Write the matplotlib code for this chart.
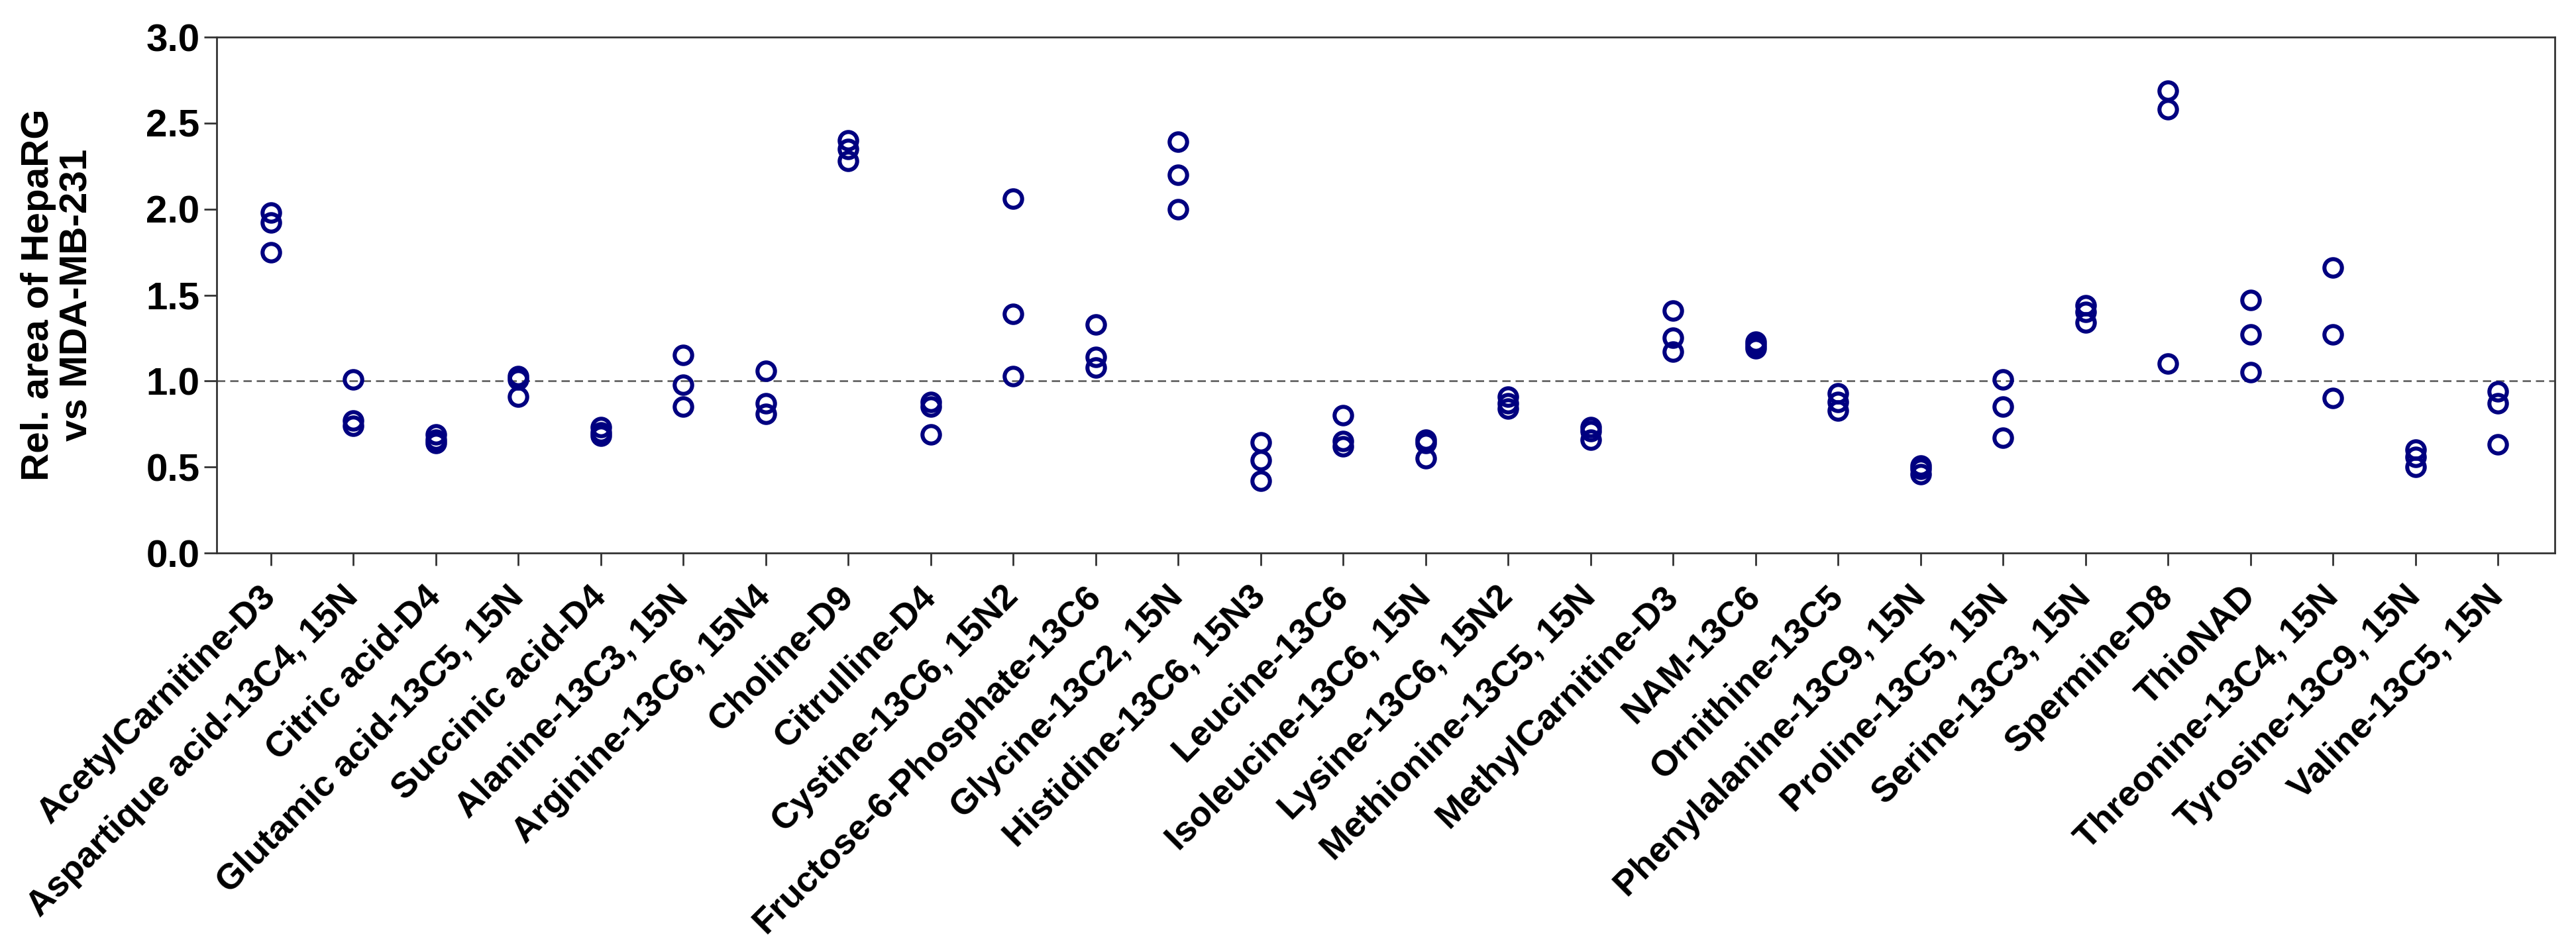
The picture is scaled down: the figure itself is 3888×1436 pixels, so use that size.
import numpy as np
import matplotlib
matplotlib.use("Agg")
import matplotlib.pyplot as plt

plt.rcParams["font.family"] = ["Liberation Sans", "DejaVu Sans"]

labels = [
    "AcetylCarnitine-D3", "Aspartique acid-13C4, 15N", "Citric acid-D4",
    "Glutamic acid-13C5, 15N", "Succinic acid-D4", "Alanine-13C3, 15N",
    "Arginine-13C6, 15N4", "Choline-D9", "Citrulline-D4", "Cystine-13C6, 15N2",
    "Fructose-6-Phosphate-13C6", "Glycine-13C2, 15N", "Histidine-13C6, 15N3",
    "Leucine-13C6", "Isoleucine-13C6, 15N", "Lysine-13C6, 15N2",
    "Methionine-13C5, 15N", "MethylCarnitine-D3", "NAM-13C6", "Ornithine-13C5",
    "Phenylalanine-13C9, 15N", "Proline-13C5, 15N", "Serine-13C3, 15N",
    "Spermine-D8", "ThioNAD", "Threonine-13C4, 15N", "Tyrosine-13C9, 15N",
    "Valine-13C5, 15N",
]

# three replicates per metabolite (ratio HepaRG / MDA-MB-231)
rep1 = [1.98, 1.01, 0.69, 1.03, 0.73, 1.15, 1.06, 2.40, 0.88, 2.06,
        1.33, 2.39, 0.645, 0.80, 0.66, 0.91, 0.73, 1.41, 1.23, 0.93,
        0.51, 1.01, 1.44, 2.69, 1.47, 1.66, 0.60, 0.94]
rep2 = [1.92, 0.77, 0.66, 1.01, 0.70, 0.98, 0.87, 2.35, 0.85, 1.39,
        1.14, 2.20, 0.54, 0.65, 0.64, 0.87, 0.71, 1.25, 1.21, 0.88,
        0.49, 0.85, 1.40, 2.58, 1.27, 1.27, 0.56, 0.87]
rep3 = [1.75, 0.74, 0.64, 0.91, 0.68, 0.85, 0.81, 2.28, 0.69, 1.03,
        1.08, 2.00, 0.42, 0.62, 0.55, 0.84, 0.66, 1.17, 1.19, 0.83,
        0.46, 0.67, 1.34, 1.10, 1.05, 0.90, 0.50, 0.63]

fig = plt.figure(figsize=(19.44, 7.18), dpi=200)
ax = fig.add_axes([0.084, 0.4185, 0.9078, 0.5425])

x = np.arange(len(labels))
for rep in (rep1, rep2, rep3):
    ax.plot(x, rep, "o", ls="none", mfc="none", mec="#000080",
            ms=9.5, mew=2.2, zorder=3)

ax.axhline(1.0, color="#555555", ls=(0, (5, 3)), lw=0.9, zorder=1)

ax.set_xlim(-0.66, len(labels) - 1 + 0.69)
ax.set_ylim(0, 3.0)
ax.set_yticks(np.arange(0, 3.01, 0.5))
ax.set_yticklabels([f"{v:.1f}" for v in np.arange(0, 3.01, 0.5)],
                   fontsize=21, fontweight="bold")
ax.set_xticks(x)
ax.set_xticklabels(labels, rotation=45, ha="right", va="center",
                   rotation_mode="anchor", fontsize=19.5,
                   fontweight="bold")

for s in ax.spines.values():
    s.set_color("#333333")
    s.set_linewidth(1.0)
ax.tick_params(axis="both", direction="out", length=7, width=1.0,
               color="#333333")
ax.tick_params(axis="y", pad=2)
ax.tick_params(axis="x", pad=14)

ax.set_ylabel("Rel. area of HepaRG\nvs MDA-MB-231", fontsize=21,
              fontweight="bold", linespacing=1.1)
ax.yaxis.set_label_coords(-0.052, 0.5)

fig.savefig("out.png", dpi=200)
